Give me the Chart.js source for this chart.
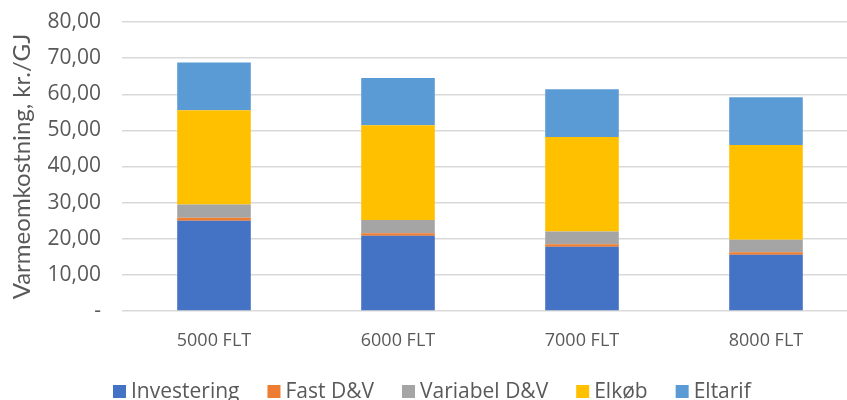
<!DOCTYPE html>
<html>
<head>
<meta charset="utf-8">
<script src="https://cdn.jsdelivr.net/npm/chart.js@4.4.1/dist/chart.umd.min.js"></script>
<style>
  html, body { margin: 0; padding: 0; background: #ffffff; overflow: hidden; }
  #wrap { width: 858px; height: 400px; }
</style>
</head>
<body>
<div id="wrap"><canvas id="chart" width="858" height="400"></canvas></div>
<script>
// Heat cost per scenario (full-load hours), kr./GJ
const categories = ['5000 FLT', '6000 FLT', '7000 FLT', '8000 FLT'];
const investering = [25.0, 20.8, 17.8, 15.6];
const fastDV      = [0.8, 0.7, 0.7, 0.65];
const variabelDV  = [3.7, 3.7, 3.5, 3.5];
const elkob       = [26.1, 26.2, 26.2, 26.2];
const eltarif     = [13.2, 13.1, 13.2, 13.2];
const yTicks = [0, 10, 20, 30, 40, 50, 60, 70, 80];

const seriesNames = ['Investering', 'Fast D&V', 'Variabel D&V', 'Elkøb', 'Eltarif'];
const seriesColors = ['#4472C4', '#ED7D31', '#A5A5A5', '#FFC000', '#5B9BD5'];
const seriesValues = [investering, fastDV, variabelDV, elkob, eltarif];

const textColor = '#595959';
const titleFamily = 'Lato, "Open Sans", sans-serif';
const textFamily = '"Open Sans", Lato, sans-serif';

function formatTick(v) {
  if (v === 0) return '-';
  return v.toFixed(2).replace('.', ',');
}

// Legend row along the bottom edge
const bottomLegend = {
  id: 'bottomLegend',
  afterDraw(chart) {
    const ctx = chart.ctx;
    ctx.save();
    ctx.font = '21px ' + textFamily;
    ctx.textBaseline = 'alphabetic';
    ctx.textAlign = 'left';
    const box = 13, boxTop = 385, baseline = 398, textGap = 5, itemGap = 28;
    let x = 113;
    chart.data.datasets.forEach(ds => {
      ctx.fillStyle = ds.backgroundColor;
      ctx.fillRect(x, boxTop, box, box);
      const tx = x + box + textGap;
      ctx.fillStyle = textColor;
      ctx.fillText(ds.label, tx, baseline);
      x = tx + ctx.measureText(ds.label).width + itemGap;
    });
    ctx.restore();
  }
};

new Chart(document.getElementById('chart'), {
  type: 'bar',
  data: {
    labels: categories,
    datasets: seriesNames.map((name, i) => ({
      label: name,
      data: seriesValues[i],
      backgroundColor: seriesColors[i],
      borderWidth: 0,
      categoryPercentage: 1.0,
      barPercentage: 0.4
    }))
  },
  options: {
    responsive: false,
    animation: false,
    layout: { padding: { top: 22, right: 0, bottom: 0, left: 0 } },
    plugins: {
      legend: { display: false },
      tooltip: { enabled: false }
    },
    scales: {
      x: {
        stacked: true,
        offset: true,
        grid: { display: false, drawTicks: false },
        border: { display: false },
        ticks: {
          color: textColor,
          font: { family: textFamily, size: 18 },
          padding: 19,
          maxRotation: 0
        },
        afterFit(scale) { scale.height = 89; }
      },
      y: {
        stacked: true,
        min: 0,
        max: 80,
        afterBuildTicks(scale) { scale.ticks = yTicks.map(v => ({ value: v })); },
        grid: { color: '#D9D9D9', lineWidth: 1.5, drawTicks: false },
        border: { display: false },
        ticks: {
          color: textColor,
          font: { family: textFamily, size: 21 },
          padding: 21,
          callback: (v) => formatTick(v)
        },
        title: {
          display: true,
          text: 'Varmeomkostning, kr./GJ',
          color: textColor,
          font: { family: titleFamily, size: 24 },
          padding: { top: 8, bottom: 0 }
        },
        afterFit(scale) {
          scale.width = 122;
          scale.paddingTop = 0;
          scale.paddingBottom = 0;
        }
      }
    }
  },
  plugins: [bottomLegend]
});
</script>
</body>
</html>
